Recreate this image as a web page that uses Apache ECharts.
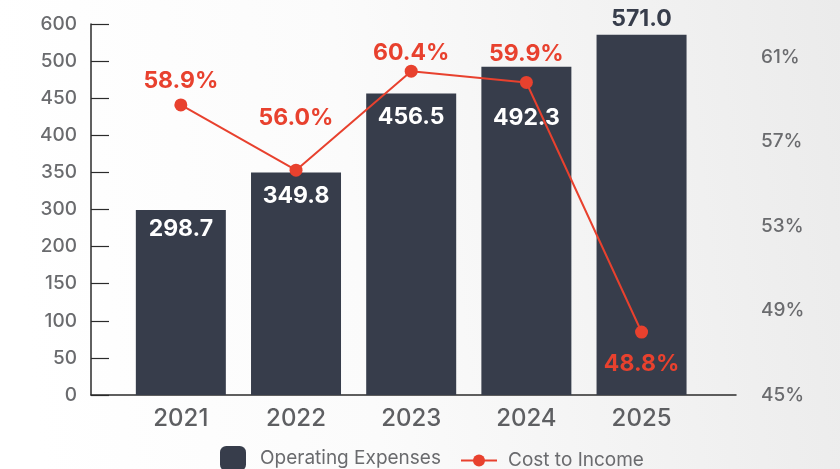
<!DOCTYPE html>
<html>
<head>
<meta charset="utf-8">
<script src="https://cdn.jsdelivr.net/npm/echarts@6/dist/echarts.min.js"></script>
<style>
  html, body { margin: 0; padding: 0; }
  #chart { width: 840px; height: 469px; }
</style>
</head>
<body>
<div id="chart"></div>
<script>
// categories and values
const years = ['2021', '2022', '2023', '2024', '2025']
const operatingExpenses = [298.7, 349.8, 456.5, 492.3, 571.0]
const costToIncome = [58.9, 56.0, 60.4, 59.9, 48.8]

// left axis tick labels (the original axis is not linear: equal spacing per label)
const leftTicks = [0, 50, 100, 150, 200, 300, 350, 400, 450, 500, 600]
const rightTicks = [45, 49, 53, 57, 61]

const red = '#e8412e'
const dark = '#373d4b'
const grey = '#6a6b6e'
const font = 'Inter, "Open Sans", sans-serif'

// map a value onto the equally spaced tick index of the left axis
function tickPos(v) {
  for (let i = 1; i < leftTicks.length; i++) {
    if (v <= leftTicks[i]) {
      const a = leftTicks[i - 1], b = leftTicks[i]
      return i - 1 + (v - a) / (b - a)
    }
  }
  return leftTicks.length - 1
}

// label placement
const barLabelGap = [8, 12, 12, 40, 4]
const pctLabelPos = ['top', 'top', 'top', 'top', 'bottom']
const pctLabelGap = [6, 34, 0, 10, 14]

const chart = echarts.init(document.getElementById('chart'))

const last = operatingExpenses.length - 1

const option = {
  backgroundColor: {
    type: 'linear', x: 0, y: 0.2, x2: 1, y2: 0,
    colorStops: [
      { offset: 0, color: '#ffffff' },
      { offset: 0.4, color: '#fbfbfb' },
      { offset: 1, color: '#ebebeb' },
    ],
  },
  animation: false,
  grid: { left: 91, right: 104, top: 24, bottom: 74 },
  legend: [
    {
      data: ['Operating Expenses'],
      left: 215,
      top: 441,
      itemWidth: 26,
      itemHeight: 25,
      textStyle: { fontFamily: font, fontSize: 19, color: grey, padding: [0, 0, 0, 9] },
    },
    {
      data: ['Cost to Income'],
      left: 455,
      top: 446,
      itemWidth: 36,
      itemHeight: 15,
      textStyle: { fontFamily: font, fontSize: 19, color: grey, padding: [0, 0, 0, 6] },
    },
  ],
  xAxis: {
    type: 'value',
    min: -0.78,
    max: 4.82,
    splitLine: { show: false },
    axisTick: { show: false },
    axisLine: { show: true, onZero: false, lineStyle: { color: '#2b2b2b', width: 1.5 } },
    axisLabel: {
      customValues: [0, 1, 2, 3, 4],
      formatter: (v) => years[Math.round(v)] || '',
      fontFamily: font,
      fontSize: 24,
      fontWeight: 500,
      color: '#5e5f62',
      margin: 12,
    },
  },
  yAxis: [
    {
      type: 'value',
      min: 0,
      max: leftTicks.length - 1,
      interval: 1,
      splitLine: { show: false },
      axisLine: { show: true, onZero: false, lineStyle: { color: '#2b2b2b', width: 1.5 } },
      axisTick: { show: true, inside: true, length: 18, lineStyle: { color: '#2b2b2b', width: 1.2 } },
      axisLabel: {
        formatter: (v) => String(leftTicks[v] ?? ''),
        fontFamily: font,
        fontSize: 19,
        fontWeight: 500,
        color: grey,
        margin: 14,
      },
    },
    {
      type: 'value',
      position: 'right',
      min: 45,
      max: 62.56,
      interval: 4,
      splitLine: { show: false },
      axisLine: { show: false, onZero: false },
      axisTick: { show: false },
      axisLabel: {
        showMaxLabel: false,
        formatter: (v) => (rightTicks.includes(v) ? v + '%' : ''),
        fontFamily: font,
        fontSize: 19,
        fontWeight: 500,
        color: grey,
        margin: 25,
      },
    },
    {
      // scale of the ratio line, not drawn
      type: 'value',
      position: 'right',
      show: false,
      min: 46,
      max: 62.5,
      splitLine: { show: false },
    },
  ],
  series: [
    {
      name: 'Operating Expenses',
      type: 'bar',
      barWidth: 90,
      itemStyle: { color: dark },
      data: operatingExpenses.map((v, i) => ({
        value: [i, tickPos(v)],
        label: {
          show: true,
          position: i === last ? 'top' : 'insideTop',
          distance: barLabelGap[i],
          color: i === last ? dark : '#ffffff',
        },
      })),
      label: {
        fontFamily: font,
        fontSize: 23,
        fontWeight: 'bold',
        formatter: (p) => operatingExpenses[p.dataIndex].toFixed(1),
      },
    },
    {
      name: 'Cost to Income',
      type: 'line',
      yAxisIndex: 2,
      symbol: 'circle',
      symbolSize: 13,
      z: 5,
      lineStyle: { color: red, width: 2 },
      itemStyle: { color: red },
      data: costToIncome.map((v, i) => ({
        value: [i, v],
        label: { show: true, position: pctLabelPos[i], distance: pctLabelGap[i] },
      })),
      label: {
        fontFamily: font,
        fontSize: 23,
        fontWeight: 'bold',
        color: red,
        formatter: (p) => costToIncome[p.dataIndex].toFixed(1) + '%',
      },
    },
  ],
}

chart.setOption(option)
</script>
</body>
</html>
